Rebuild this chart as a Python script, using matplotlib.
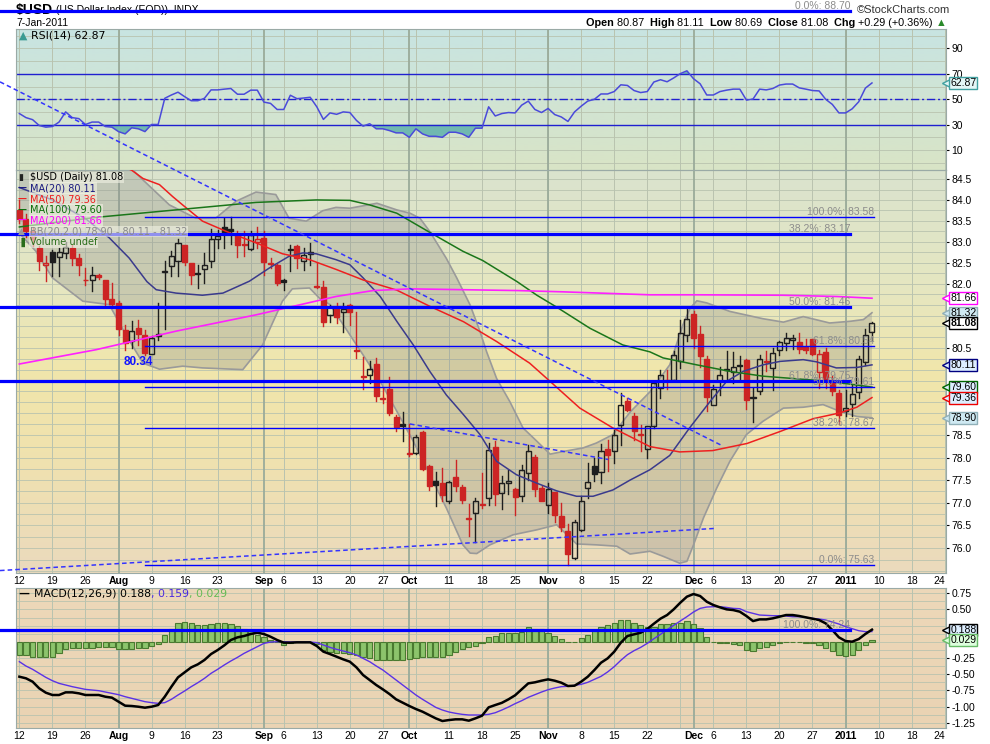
import numpy as np
import matplotlib
matplotlib.use("Agg")
import matplotlib.pyplot as plt
from matplotlib.patches import Rectangle
from matplotlib.colors import LinearSegmentedColormap
from matplotlib.ticker import FixedLocator, FixedFormatter, NullLocator
from matplotlib.transforms import blended_transform_factory

plt.rcParams["font.family"] = ["Liberation Sans", "DejaVu Sans"]

W, H = 990, 744

# ---- daily candles, one per weekday, 12-Jul-2010 .. 7-Jan-2011 ----
opens = [83.75, 83.55, 83.25, 82.85, 82.44, 82.75, 82.63, 82.72, 82.85, 82.60,
         82.10, 82.08, 82.20, 82.08, 81.65, 81.55, 80.92, 80.66, 80.96, 80.81,
         80.37, 80.82, 82.27, 82.41, 82.55, 82.91, 82.49, 82.24, 82.36, 82.55,
         83.07, 83.34, 83.31, 83.19, 82.94, 82.83, 83.00, 83.09, 82.50, 82.45,
         82.09, 82.80, 82.89, 82.55, 82.75, 81.95, 81.93, 81.26, 81.45, 81.33,
         81.51, 80.46, 79.85, 79.87, 80.13, 79.35, 79.56, 78.92, 78.77, 78.10,
         78.10, 78.58, 77.81, 77.49, 77.43, 77.03, 77.56, 77.34, 76.66, 76.76,
         76.96, 77.11, 78.25, 77.21, 77.43, 77.31, 77.14, 77.66, 78.01, 77.32,
         76.94, 77.23, 76.70, 76.37, 75.78, 76.40, 77.32, 77.81, 77.68, 78.20,
         78.14, 78.73, 79.29, 78.95, 78.54, 78.20, 78.71, 79.59, 79.77, 79.77,
         80.20, 80.79, 81.30, 80.82, 80.25, 79.20, 79.73, 79.99, 79.95, 80.10,
         80.23, 79.38, 79.52, 80.20, 80.04, 80.46, 80.61, 80.68, 80.64, 80.52,
         80.70, 79.95, 80.41, 79.73, 79.46, 79.06, 79.22, 79.48, 80.17, 80.87]
highs = [84.00, 83.65, 83.35, 82.90, 82.66, 82.80, 82.85, 82.98, 82.92, 82.70,
         82.37, 82.39, 82.22, 82.10, 82.02, 81.60, 81.03, 81.13, 81.16, 80.92,
         80.78, 81.55, 82.53, 82.77, 83.05, 82.93, 82.50, 82.45, 82.73, 83.30,
         83.28, 83.56, 83.58, 83.25, 83.25, 83.25, 83.35, 83.25, 82.61, 82.47,
         82.11, 82.91, 82.93, 82.85, 82.97, 82.49, 82.06, 81.50, 81.55, 81.55,
         81.52, 81.34, 80.28, 80.19, 80.27, 79.58, 79.82, 78.97, 79.03, 78.76,
         78.52, 78.61, 77.84, 77.69, 77.77, 77.48, 77.94, 77.40, 76.97, 77.10,
         77.66, 78.33, 78.37, 77.58, 77.73, 77.32, 77.83, 78.28, 78.07, 77.37,
         77.43, 77.24, 76.99, 76.53, 76.62, 77.14, 77.88, 77.99, 78.30, 78.40,
         78.63, 79.46, 79.35, 79.01, 78.74, 78.72, 79.73, 80.00, 80.00, 80.43,
         81.16, 81.41, 81.35, 81.00, 80.31, 79.65, 80.05, 80.42, 80.40, 80.32,
         80.25, 79.58, 80.33, 80.42, 80.50, 80.67, 80.85, 80.80, 80.85, 80.70,
         80.71, 80.46, 80.50, 79.85, 79.54, 79.54, 79.64, 80.31, 80.95, 81.11]
lows = [83.45, 83.10, 82.90, 82.33, 82.07, 82.18, 82.19, 82.60, 82.44, 82.21,
        81.97, 81.82, 82.12, 81.51, 81.50, 80.81, 80.46, 80.50, 80.57, 80.34,
        80.36, 80.68, 80.95, 82.18, 82.18, 82.44, 82.00, 81.90, 82.02, 82.40,
        82.85, 82.85, 82.94, 82.63, 82.66, 82.81, 82.85, 82.20, 82.37, 81.97,
        81.86, 82.30, 82.37, 82.33, 82.45, 81.90, 81.00, 81.10, 81.08, 80.86,
        81.04, 80.26, 79.56, 79.69, 79.28, 79.24, 78.97, 78.59, 78.38, 78.03,
        78.08, 77.73, 77.28, 76.92, 77.03, 77.00, 77.25, 76.99, 76.26, 76.13,
        76.88, 76.94, 76.95, 76.86, 77.19, 76.73, 77.04, 77.51, 77.14, 77.03,
        76.77, 76.57, 76.37, 75.63, 75.76, 76.37, 77.10, 77.48, 77.43, 77.70,
        77.88, 78.29, 79.05, 78.40, 78.16, 77.99, 78.67, 79.36, 79.56, 79.73,
        80.04, 80.67, 80.51, 80.06, 79.06, 79.18, 79.42, 79.79, 79.69, 79.79,
        79.11, 78.80, 79.44, 79.96, 79.54, 80.33, 80.46, 80.47, 80.38, 80.38,
        80.34, 79.59, 79.58, 79.42, 78.77, 78.93, 78.93, 79.35, 80.11, 80.69]
closes = [83.55, 83.25, 83.05, 82.55, 82.49, 82.51, 82.75, 82.88, 82.60, 82.45,
          82.08, 82.20, 82.17, 81.63, 81.52, 80.95, 80.61, 80.89, 80.83, 80.38,
          80.73, 80.78, 82.30, 82.65, 82.97, 82.51, 82.21, 82.26, 82.45, 83.06,
          83.13, 83.17, 83.25, 82.93, 82.91, 83.16, 83.05, 82.51, 82.47, 82.02,
          82.03, 82.83, 82.61, 82.67, 82.71, 81.92, 81.10, 81.45, 81.21, 81.41,
          81.33, 80.44, 79.83, 80.01, 79.39, 79.33, 79.01, 78.69, 78.72, 78.08,
          78.46, 77.75, 77.37, 77.39, 77.17, 77.46, 77.36, 77.06, 76.64, 77.04,
          76.94, 78.18, 77.19, 77.43, 77.47, 77.12, 77.72, 78.16, 77.31, 77.04,
          77.30, 76.72, 76.47, 75.87, 76.57, 77.03, 77.45, 77.63, 78.16, 78.07,
          78.52, 79.20, 79.08, 78.61, 78.52, 78.71, 79.69, 79.87, 79.75, 80.34,
          80.85, 81.18, 80.72, 80.31, 79.37, 79.56, 79.87, 80.01, 80.06, 80.08,
          79.30, 79.36, 80.25, 80.18, 80.38, 80.63, 80.73, 80.74, 80.48, 80.46,
          80.37, 80.35, 79.73, 79.52, 78.97, 79.13, 79.45, 80.25, 80.79, 81.08]

# ---- overlays, sampled along the trading-day index ----
ma20_x = [0, 5, 10, 13.6, 16.6, 19.3, 20.7, 23.7, 27.7, 30.8, 34.8, 37.8, 40.8, 42.9, 44.9,
          47.9, 50.0, 52.0, 54.6, 57.1, 59.6, 62.1, 64.6, 67.2, 69.7, 72.2, 75.2, 78.3, 81.3,
          84.3, 86.8, 89.8, 92.4, 95.4, 98.4, 101.4, 104.5, 107.0, 109.5, 112.5, 115.1, 118.6,
          120.6, 123.6, 126.7, 129]
ma20_y = [84.30, 84.00, 83.55, 83.09, 82.61, 82.05, 81.86, 81.78, 81.73, 81.78, 82.06, 82.37,
          82.65, 82.73, 82.71, 82.57, 82.45, 82.14, 81.70, 81.12, 80.57, 79.96, 79.42, 78.97,
          78.52, 77.92, 77.62, 77.43, 77.26, 77.14, 77.14, 77.28, 77.50, 77.73, 78.05, 78.67,
          79.27, 79.73, 79.96, 80.11, 80.19, 80.23, 80.18, 80.04, 80.05, 80.11]
ma50_x = [0, 10, 17, 18.7, 21.2, 23.2, 24.7, 27.7, 31.8, 35.8, 39.8, 43.9, 47.9, 52.0, 57.1,
          62.1, 67.2, 72.2, 77.2, 80.3, 84.8, 89.8, 95.4, 99.9, 104.9, 110.1, 115.1, 120.1,
          124.1, 126.7, 129]
ma50_y = [85.60, 85.20, 84.72, 84.52, 84.37, 84.08, 83.88, 83.49, 83.21, 82.97, 82.71, 82.57,
          82.34, 82.09, 81.85, 81.47, 81.11, 80.65, 80.15, 79.73, 79.12, 78.67, 78.25, 78.13,
          78.16, 78.32, 78.59, 78.88, 79.01, 79.14, 79.36]
ma100_x = [0, 11.6, 23.7, 35.8, 44.9, 50.0, 53.0, 57.1, 62.1, 67.1, 70.1, 75.3, 78.3, 81.3,
           86.3, 91.3, 95.4, 97.4, 102.5, 107.5, 112.5, 117.6, 122.6, 129]
ma100_y = [83.35, 83.58, 83.76, 83.94, 84.00, 83.99, 83.88, 83.68, 83.22, 82.77, 82.55, 82.05,
           81.73, 81.45, 80.96, 80.57, 80.41, 80.27, 80.11, 79.96, 79.85, 79.79, 79.73, 79.60]
ma200_x = [0, 11.6, 23.7, 35.8, 47.9, 53.5, 59.1, 67.1, 75.3, 82.2, 95.4, 102.5, 115.5, 123.7, 129]
ma200_y = [80.13, 80.46, 80.89, 81.27, 81.70, 81.84, 81.88, 81.86, 81.84, 81.81, 81.74, 81.74,
           81.73, 81.70, 81.66]
bb_up_x = [0, 14, 17, 18.4, 22.7, 26.7, 29.7, 32.8, 35.8, 38.8, 40.8, 43.4, 45.9, 47.9, 50.0,
           54.1, 57.1, 59.1, 60.6, 62.1, 64.6, 66.2, 68.2, 69.7, 70.7, 72.2, 74.2, 76.2, 78.3,
           80.3, 82.3, 85.3, 87.3, 89.8, 92.4, 95.4, 98.4, 100.4, 101.5, 102.5, 104.0, 107.5,
           112.5, 115.6, 118.6, 122.6, 125.7, 127.7, 129]
bb_up_y = [85.40, 85.10, 84.75, 84.53, 83.88, 83.56, 83.56, 83.97, 84.19, 84.13, 83.56, 83.49,
           83.74, 83.82, 83.80, 83.92, 83.76, 83.68, 83.56, 83.24, 82.60, 82.13, 81.50, 80.88,
           80.41, 79.80, 79.27, 78.67, 78.37, 78.08, 78.14, 78.22, 78.33, 78.52, 79.03, 79.49,
           80.11, 81.04, 81.43, 81.60, 81.55, 81.35, 81.18, 81.10, 81.23, 81.08, 81.12, 81.16,
           81.32]
bb_lo_x = [0, 2.5, 5.0, 9.6, 13.6, 16.1, 18.7, 21.2, 24.7, 27.7, 33.8, 36.8, 39.8, 41.3, 43.9,
           45.4, 47.0, 49.0, 52.0, 54.6, 57.1, 59.6, 62.1, 64.6, 67.1, 68.2, 69.2, 71.2, 74.7,
           78.3, 81.3, 84.3, 87.3, 90.4, 92.4, 95.4, 97.4, 99.9, 101.0, 102.0, 103.5, 105.5,
           107.5, 110.0, 112.5, 115.6, 118.6, 121.6, 124.1, 126.7, 129]
bb_lo_y = [83.20, 82.77, 82.14, 81.59, 81.51, 80.81, 80.15, 80.01, 80.08, 80.04, 80.00, 80.57,
           81.59, 81.88, 81.90, 81.66, 81.51, 81.04, 80.34, 79.73, 79.05, 78.37, 77.62, 76.88,
           76.07, 75.89, 75.88, 76.07, 76.29, 76.40, 76.51, 76.09, 76.07, 76.04, 75.87, 75.93,
           75.82, 75.67, 75.71, 76.07, 76.66, 77.32, 77.92, 78.52, 78.82, 79.12, 79.14, 79.20,
           79.05, 78.93, 78.90]

rsi = [38.8, 35.6, 34.0, 29.4, 28.1, 28.6, 32.1, 40.1, 35.6, 34.8,
       30.2, 32.1, 32.1, 28.6, 28.1, 24.6, 22.8, 27.6, 26.8, 24.6,
       30.2, 30.2, 50.8, 53.4, 55.6, 52.1, 48.9, 48.9, 50.8, 57.4,
       57.4, 58.0, 58.5, 54.0, 54.0, 57.2, 57.2, 47.8, 46.8, 42.0,
       42.0, 53.2, 50.5, 51.0, 51.6, 44.1, 34.2, 39.3, 38.2, 40.1,
       39.6, 33.4, 28.9, 30.8, 26.8, 26.8, 25.4, 23.6, 23.6, 20.1,
       26.8, 22.8, 20.9, 20.9, 20.1, 24.1, 24.1, 22.8, 20.1, 27.3,
       27.3, 44.1, 36.9, 38.8, 39.6, 39.3, 45.4, 48.6, 42.0, 39.6,
       42.8, 38.0, 36.1, 32.6, 40.1, 44.6, 48.6, 50.0, 54.2, 54.2,
       56.1, 61.4, 60.9, 56.9, 55.3, 56.1, 63.6, 65.4, 63.8, 66.8,
       70.2, 72.4, 66.2, 62.2, 53.4, 53.4, 56.1, 57.2, 58.0, 58.0,
       49.4, 50.2, 58.0, 57.4, 58.5, 61.2, 62.0, 62.0, 59.0, 58.0,
       56.9, 56.6, 50.0, 46.0, 39.3, 39.3, 42.5, 48.1, 58.8, 62.87]

macd = [-0.539, -0.564, -0.616, -0.719, -0.786, -0.822, -0.822, -0.781, -0.781, -0.796,
        -0.822, -0.822, -0.822, -0.848, -0.863, -0.925, -0.987, -0.992, -1.003, -1.018,
        -1.003, -0.977, -0.848, -0.694, -0.549, -0.472, -0.395, -0.348, -0.281, -0.189,
        -0.127, -0.055, 0.028, 0.069, 0.090, 0.121, 0.141, 0.121, 0.079, 0.028,
        -0.013, -0.013, -0.008, -0.008, -0.008, -0.065, -0.152, -0.189, -0.230, -0.271,
        -0.307, -0.395, -0.513, -0.590, -0.668, -0.735, -0.807, -0.889, -0.941, -0.992,
        -1.039, -1.080, -1.131, -1.183, -1.224, -1.209, -1.198, -1.198, -1.219, -1.183,
        -1.142, -1.013, -0.977, -0.943, -0.889, -0.827, -0.734, -0.642, -0.626, -0.601,
        -0.580, -0.601, -0.632, -0.683, -0.678, -0.616, -0.539, -0.436, -0.323, -0.256,
        -0.153, -0.013, 0.090, 0.115, 0.141, 0.198, 0.280, 0.358, 0.414, 0.502,
        0.605, 0.698, 0.739, 0.708, 0.620, 0.569, 0.533, 0.502, 0.491, 0.466,
        0.399, 0.321, 0.347, 0.347, 0.363, 0.388, 0.414, 0.414, 0.399, 0.378,
        0.358, 0.337, 0.285, 0.182, 0.069, 0.012, 0.002, 0.043, 0.121, 0.188]
macd_signal = [-0.307, -0.374, -0.425, -0.487, -0.549, -0.601, -0.642, -0.667, -0.693, -0.714,
               -0.735, -0.745, -0.755, -0.776, -0.797, -0.817, -0.848, -0.874, -0.900, -0.925,
               -0.940, -0.951, -0.940, -0.889, -0.822, -0.760, -0.693, -0.632, -0.565, -0.487,
               -0.425, -0.358, -0.296, -0.240, -0.178, -0.127, -0.075, -0.024, -0.003, 0.002,
               0.002, -0.003, -0.003, -0.003, -0.003, -0.013, -0.049, -0.086, -0.116, -0.142,
               -0.168, -0.204, -0.256, -0.307, -0.374, -0.436, -0.513, -0.590, -0.668, -0.745,
               -0.822, -0.889, -0.951, -1.013, -1.054, -1.085, -1.105, -1.121, -1.131, -1.131,
               -1.131, -1.121, -1.096, -1.054, -1.008, -0.956, -0.910, -0.858, -0.817, -0.776,
               -0.740, -0.714, -0.693, -0.688, -0.672, -0.657, -0.626, -0.580, -0.534, -0.466,
               -0.384, -0.286, -0.199, -0.137, -0.086, -0.024, 0.048, 0.115, 0.188, 0.255,
               0.322, 0.389, 0.461, 0.517, 0.538, 0.543, 0.543, 0.532, 0.517, 0.512,
               0.466, 0.440, 0.414, 0.409, 0.404, 0.404, 0.399, 0.388, 0.388, 0.378,
               0.363, 0.352, 0.337, 0.306, 0.275, 0.234, 0.203, 0.172, 0.157, 0.159]
macd_hist = [-0.205, -0.205, -0.230, -0.240, -0.240, -0.230, -0.180, -0.116, -0.100, -0.100,
             -0.100, -0.100, -0.085, -0.085, -0.085, -0.116, -0.116, -0.116, -0.100, -0.100,
             -0.065, -0.034, 0.105, 0.198, 0.285, 0.300, 0.285, 0.260, 0.260, 0.275,
             0.285, 0.285, 0.275, 0.245, 0.193, 0.183, 0.105, 0.070, 0.030, 0.000,
             -0.050, -0.024, -0.010, -0.010, 0.000, -0.034, -0.127, -0.153, -0.168, -0.168,
             -0.194, -0.204, -0.240, -0.255, -0.280, -0.280, -0.280, -0.280, -0.280, -0.270,
             -0.255, -0.240, -0.240, -0.240, -0.240, -0.204, -0.153, -0.116, -0.085, -0.065,
             -0.024, 0.070, 0.090, 0.140, 0.140, 0.140, 0.157, 0.224, 0.193, 0.193,
             0.140, 0.090, 0.038, 0.005, 0.005, 0.054, 0.105, 0.172, 0.235, 0.260,
             0.285, 0.337, 0.337, 0.296, 0.260, 0.235, 0.235, 0.275, 0.275, 0.296,
             0.296, 0.322, 0.275, 0.209, 0.080, 0.005, -0.024, -0.024, -0.034, -0.050,
             -0.127, -0.137, -0.101, -0.085, -0.050, -0.013, 0.005, 0.005, -0.008, -0.013,
             -0.024, -0.050, -0.101, -0.137, -0.204, -0.219, -0.204, -0.127, -0.050, 0.029]

# fibonacci retracement sets
fib_a_levels = [88.70, 83.17, 81.46, 79.75, 74.24]
fib_a_names = ["0.0%", "38.2%", "50.0%", "61.8%", "100.0%"]
fib_b_levels = [83.58, 80.54, 79.61, 78.67, 75.63]
fib_b_names = ["100.0%", "61.8%", "50.0%", "38.2%", "0.0%"]

# hand-drawn trendlines: (start index, start price, end index, end price)
trend_lines = [(-2.93, 86.90, 106.2, 78.28),
               (59.1, 78.76, 89.1, 77.96),
               (-2.93, 75.51, 105.2, 76.43)]

tick_pos = [0, 5, 10, 15, 20, 25, 30, 37, 40, 45, 50, 55, 59, 65, 70, 75, 80, 85, 90, 95,
            102, 105, 110, 115, 120, 125, 130, 135, 140]
tick_lab = ["12", "19", "26", "Aug", "9", "16", "23", "Sep", "6", "13", "20", "27", "Oct",
            "11", "18", "25", "Nov", "8", "15", "22", "Dec", "6", "13", "20", "27", "2011",
            "10", "18", "24"]
month_pos = [15, 37, 59, 80, 102, 125]

# price labels that sit under the value tags on the right are left out
price_ticks = [76.0, 76.5, 77.0, 77.5, 78.0, 78.5, 80.5, 82.0, 82.5, 83.0, 83.5, 84.0, 84.5]
macd_ticks = [0.75, 0.5, -0.25, -0.5, -0.75, -1.0, -1.25]

# ---------------------------------------------------------------------------
fig = plt.figure(figsize=(W / 100, H / 100), dpi=100)
fig.patch.set_facecolor("white")
L, R = 16, 946


def panel(top, bottom, z):
  a = fig.add_axes([L / W, 1 - bottom / H, (R - L) / W, (bottom - top) / H], zorder=z)
  a.set_facecolor("none")
  for s in a.spines.values():
    s.set_color("#9aaaa6")
  a.set_xlim(-0.51, 140.2)
  return a


# background gradients
bg = fig.add_axes([0, 0, 1, 1], zorder=0)
bg.axis("off")


def gradient(top, bottom, stops):
  cmap = LinearSegmentedColormap.from_list("g", stops)
  g = np.linspace(0, 1, 256).reshape(-1, 1)
  bg.imshow(g, cmap=cmap, aspect="auto", extent=[L, R, bottom, top],
            origin="upper", interpolation="bilinear")


gradient(29, 170, [(0, "#c8e4e2"), (1, "#d9e4c6")])
gradient(170, 573, [(0, "#dae3ce"), (0.3, "#e6e7c0"), (0.5, "#f1e6ab"),
                    (0.7, "#f0e2ae"), (1, "#ebdabd")])
gradient(588, 728, [(0, "#edd8b9"), (1, "#ead3b3")])
bg.set_xlim(0, W)
bg.set_ylim(H, 0)

ax_rsi = panel(29, 170, 1)
ax = panel(170, 573, 5)
ax_macd = panel(588, 728, 1)

grid_c = "#b9c3af"
for a in (ax_rsi, ax, ax_macd):
  for p in range(0, 141, 5):
    a.axvline(p, color=grid_c, lw=0.7, zorder=0.5)
  for p in month_pos:
    a.axvline(p, color="#9aab9a", lw=1.3, zorder=0.6)

# ---- RSI panel ----
idx = np.arange(len(closes))
rsi_arr = np.array(rsi)
ax_rsi.set_ylim(-5.6, 105.3)
for v in range(0, 101, 10):
  ax_rsi.axhline(v, color=grid_c, lw=0.6, zorder=0.5)
ax_rsi.fill_between(idx, rsi_arr, 30, where=rsi_arr < 30, interpolate=True,
                    color="#70b8b0", lw=0, zorder=2)
ax_rsi.fill_between(idx, rsi_arr, 70, where=rsi_arr > 70, interpolate=True,
                    color="#70b8b0", lw=0, zorder=2)
ax_rsi.axhline(70, color="#2020d0", lw=1.0, zorder=2.5)
ax_rsi.axhline(30, color="#2020d0", lw=1.0, zorder=2.5)
ax_rsi.axhline(50, color="#2020d0", lw=1.0, ls=(0, (6, 2, 1.5, 2)), zorder=2.5)
ax_rsi.plot(idx, rsi_arr, color="#4a4ada", lw=1.1, zorder=3)
ax_rsi.set_xticks([])
ax_rsi.yaxis.tick_right()
ax_rsi.set_yticks([10, 30, 50, 70, 90])
ax_rsi.tick_params(axis="y", length=2, labelsize=7.5, pad=2)

# ---- price panel ----
ax.set_yscale("log")
ax.set_ylim(75.457, 84.726)
for v in np.arange(75.5, 84.8, 0.25):
  ax.axhline(v, color=grid_c, lw=0.6, zorder=0.5)

ax.fill(np.r_[bb_up_x, bb_lo_x[::-1]], np.r_[bb_up_y, bb_lo_y[::-1]],
        color="#8a8a8a", alpha=0.3, lw=0, zorder=1)
ax.plot(bb_up_x, bb_up_y, color="#9a9a9a", lw=1.2, zorder=1.2)
ax.plot(bb_lo_x, bb_lo_y, color="#9a9a9a", lw=1.2, zorder=1.2)

red, blk = "#cc2424", "#1e1e1e"
for i in range(len(closes)):
  o, h, l, c = opens[i], highs[i], lows[i], closes[i]
  prev = closes[i - 1] if i else o
  col = red if c < prev else blk
  lo_b, hi_b = min(o, c), max(o, c)
  ax.plot([i, i], [hi_b, h], color=col, lw=1.0, zorder=3)
  ax.plot([i, i], [l, lo_b], color=col, lw=1.0, zorder=3)
  ax.add_patch(Rectangle((i - 0.38, lo_b), 0.76, hi_b - lo_b,
                         facecolor=col if c < o else "none", edgecolor=col,
                         lw=1.0, zorder=3))

ax.plot(ma20_x, ma20_y, color="#3a3a8c", lw=1.1, zorder=4)
ax.plot(ma50_x, ma50_y, color="#ee2020", lw=1.1, zorder=4)
ax.plot(ma100_x, ma100_y, color="#1a761a", lw=1.1, zorder=4)
ax.plot(ma200_x, ma200_y, color="#ff20ff", lw=1.2, zorder=4)

for lvl, nm in zip(fib_a_levels, fib_a_names):
  ax.plot([-2.93, 125.7], [lvl, lvl], color="#0000ff", lw=2.3, clip_on=False, zorder=6)
  ax.text(125.7, lvl, f"{nm}: {lvl:.2f}", ha="right", va="bottom", fontsize=7.5,
          color="#8c8c8c", clip_on=False, zorder=6)
for lvl, nm in zip(fib_b_levels, fib_b_names):
  ax.plot([19.0, 129.3], [lvl, lvl], color="#0000ff", lw=1.0, clip_on=False, zorder=6)
  ax.text(129.3, lvl, f"{nm}: {lvl:.2f}", ha="right", va="bottom", fontsize=7.5,
          color="#8c8c8c", clip_on=False, zorder=6)

for x0, y0, x1, y1 in trend_lines:
  ax.plot([x0, x1], [y0, y1], color="#3434ff", lw=1.1, ls=(0, (3, 2)),
          clip_on=False, zorder=6)

ax.annotate(f"{lows[19]:.2f}", xy=(19, lows[19]), xytext=(-5, -1),
            textcoords="offset points", ha="center", va="top", fontsize=8.5,
            fontweight="bold", color="#1414ff", zorder=7)

ax.yaxis.tick_right()
ax.yaxis.set_major_locator(FixedLocator(price_ticks))
ax.yaxis.set_major_formatter(FixedFormatter([f"{v:.1f}" for v in price_ticks]))
ax.yaxis.set_minor_locator(NullLocator())
ax.tick_params(axis="y", length=2, labelsize=7.5, pad=2)

# ---- MACD panel ----
ax_macd.set_ylim(-1.332, 0.832)
for v in np.arange(-1.25, 0.8, 0.125):
  ax_macd.axhline(v, color=grid_c, lw=0.6, zorder=0.5)
ax_macd.bar(idx, macd_hist, width=0.8, color="#8cc46c", edgecolor="#4a7a30",
            lw=0.8, zorder=2)
ax_macd.plot(idx, macd_signal, color="#5a32e6", lw=1.0, zorder=3)
ax_macd.plot(idx, macd, color="black", lw=1.8, zorder=4)
ax_macd.yaxis.tick_right()
ax_macd.set_yticks(macd_ticks)
ax_macd.set_yticklabels([f"{v:.2f}" for v in macd_ticks])
ax_macd.tick_params(axis="y", length=2, labelsize=7.5, pad=2)

for a in (ax, ax_macd):
  a.set_xticks(tick_pos)
  a.set_xticklabels(tick_lab)
  a.tick_params(axis="x", length=0, labelsize=7.5, pad=2.5)
  for t, s in zip(a.get_xticklabels(), tick_lab):
    if not s.isdigit() or s == "2011":
      t.set_fontweight("bold")
  a.get_xticklabels()[-1].set_horizontalalignment("right")


# ---- value tags on the right edge ----
def tag(a, y, s, fc, ec, bold=False):
  tr = blended_transform_factory(a.transAxes, a.transData)
  a.plot([1.0], [y], marker="<", ms=6, mfc=fc, mec=ec, mew=1, transform=tr,
         clip_on=False, zorder=7)
  a.annotate(s, xy=(1.0, y), xycoords=tr, xytext=(3.0, 0), textcoords="offset points",
             ha="left", va="center", fontsize=7.5,
             fontweight="bold" if bold else "normal",
             bbox=dict(boxstyle="square,pad=0.1", fc=fc, ec=ec, lw=1),
             annotation_clip=False, zorder=8)


tag(ax_rsi, rsi[-1], f"{rsi[-1]:.2f}", "#e4f6f6", "#40a0a0")
tag(ax, ma200_y[-1], f"{ma200_y[-1]:.2f}", "white", "#ff00ff")
tag(ax, bb_up_y[-1], f"{bb_up_y[-1]:.2f}", "#cfe9f2", "#90b0b8")
tag(ax, closes[-1], f"{closes[-1]:.2f}", "white", "black", bold=True)
tag(ax, ma20_y[-1], f"{ma20_y[-1]:.2f}", "#ddeeff", "#000080")
tag(ax, ma100_y[-1], f"{ma100_y[-1]:.2f}", "#ddeeff", "#006600")
tag(ax, ma50_y[-1], f"{ma50_y[-1]:.2f}", "#ddeeff", "#ee0000")
tag(ax, bb_lo_y[-1], f"{bb_lo_y[-1]:.2f}", "#cfe9f2", "#90b0b8")
tag(ax_macd, macd[-1], f"{macd[-1]:.3f}", "#ddeeff", "black")
tag(ax_macd, macd_hist[-1], f"{macd_hist[-1]:.3f}", "#ddffdd", "#66bb66")

# ---- texts ----
rend = fig.canvas.get_renderer()


def chain(x, y, pieces, size, family, z=3, box=None):
  for s, col, wt in pieces:
    t = fig.text(x / W, 1 - y / H, s, color=col, fontweight=wt, fontsize=size,
                 va="center", ha="left", family=family, zorder=z, bbox=box)
    x += t.get_window_extent(renderer=rend).width


chain(16, 10, [("$USD", "black", "bold")], 10, "Liberation Sans", z=2)
fig.text(56 / W, 1 - 10 / H, "(US Dollar Index (EOD))  INDX", fontsize=7.5,
         va="center", zorder=2)
fig.text(16 / W, 1 - 23 / H, "7-Jan-2011", fontsize=7.5, va="center")
fig.text(857 / W, 1 - 10 / H, "\u00a9StockCharts.com", fontsize=8, va="center",
         color="#333333")

chg = closes[-1] - closes[-2]
chain(586, 23, [("Open ", "black", "bold"), (f"{opens[-1]:.2f}  ", "black", "normal"),
                ("High ", "black", "bold"), (f"{highs[-1]:.2f}  ", "black", "normal"),
                ("Low ", "black", "bold"), (f"{lows[-1]:.2f}  ", "black", "normal"),
                ("Close ", "black", "bold"), (f"{closes[-1]:.2f}  ", "black", "normal"),
                ("Chg ", "black", "bold"),
                (f"{chg:+.2f} ({chg / closes[-2] * 100:+.2f}%) ", "black", "normal"),
                ("\u25b2", "#2a8a2a", "normal")], 7.8, "Liberation Sans")

chain(19, 36, [("\u25b2 ", "#3a9a92", "normal"),
               (f"RSI(14) {rsi[-1]:.2f}", "black", "normal")], 7.8, "DejaVu Sans")
chain(19, 594, [("\u2014 ", "black", "bold"),
                (f"MACD(12,26,9) {macd[-1]:.3f}", "black", "normal"),
                (f", {macd_signal[-1]:.3f}", "#4a2ae0", "normal"),
                (f", {macd_hist[-1]:.3f}", "#66bb55", "normal")], 7.8, "DejaVu Sans")

lbox = dict(boxstyle="square,pad=0.1", fc="#f2f2e4", ec="none", alpha=0.6)
rows = [("\u25ae", "#222222", f"$USD (Daily) {closes[-1]:.2f}", "black"),
        ("\u2014", "#1a1a80", f"MA(20) {ma20_y[-1]:.2f}", "#1a1a80"),
        ("\u2014", "#ee1c1c", f"MA(50) {ma50_y[-1]:.2f}", "#ee1c1c"),
        ("\u2014", "#0a6e0a", f"MA(100) {ma100_y[-1]:.2f}", "#0a6e0a"),
        ("\u2014", "#ff00ff", f"MA(200) {ma200_y[-1]:.2f}", "#ff00ff"),
        ("\u25b2", "#9a9a9a",
         f"BB(20,2.0) {bb_lo_y[-1]:.2f} - {ma20_y[-1]:.2f} - {bb_up_y[-1]:.2f}", "#8a8a8a"),
        ("\u2590", "#2a6e1a", "Volume undef", "#2a6e1a")]
for k, (mk, mc, txt, tc) in enumerate(rows):
  y = 177.5 + 10.8 * k
  fig.text(18 / W, 1 - y / H, mk, color=mc, fontsize=6.5, va="center", ha="left",
           family="DejaVu Sans", fontweight="bold", zorder=7)
  fig.text(30 / W, 1 - y / H, txt, color=tc, fontsize=7, va="center", ha="left",
           family="DejaVu Sans", zorder=7, bbox=lbox)

fig.savefig("out.png", dpi=100)
